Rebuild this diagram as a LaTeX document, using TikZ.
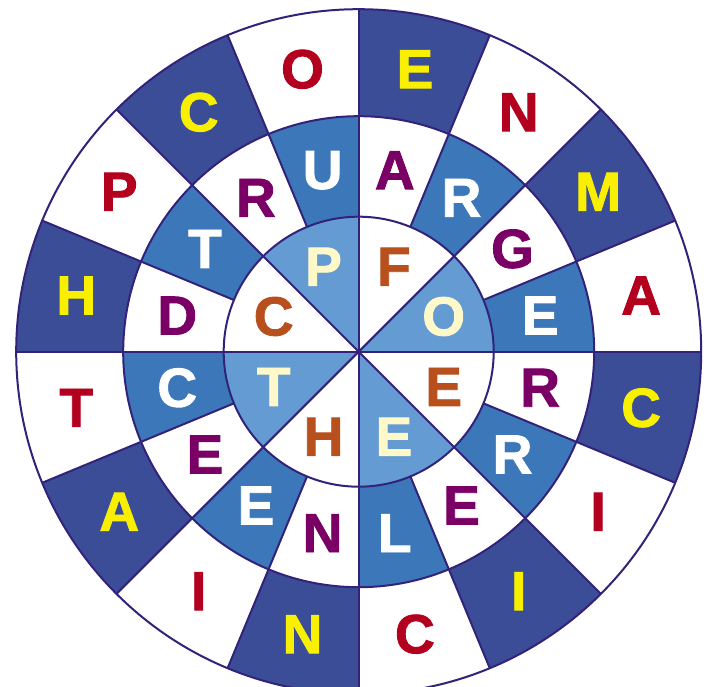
\documentclass[tikz,border=0pt]{standalone}
\usepackage{fontspec}
\setmainfont{Liberation Sans}
\newfontfamily\letterfont{Liberation Sans}[UprightFont=*-Bold, FakeBold=1.6]
\definecolor{dblue}{HTML}{3C4D98}
\definecolor{mblue}{HTML}{3C78B9}
\definecolor{lblue}{HTML}{649BD3}
\definecolor{oyellow}{HTML}{F8F000}
\definecolor{ocrimson}{HTML}{B3001E}
\definecolor{mpurple}{HTML}{7A0066}
\definecolor{icream}{HTML}{FFF8C8}
\definecolor{iorange}{HTML}{B8501E}
\definecolor{linec}{HTML}{32227A}
\tikzset{
  letter/.style={font=\letterfont\fontsize{55}{55}\selectfont, inner sep=0pt},
  ringline/.style={draw=linec, line width=2pt},
}
\begin{document}
\begin{tikzpicture}[x=1pt,y=1pt]
\useasboundingbox (-358.7,-335.3) rectangle (351.3,351.7);
\def\Ro{342.5}
\def\Rm{235.5}
\def\Ri{135}
% outer ring
\foreach \L [count=\i from 0] in {A,M,N,E,O,C,P,H,T,A,I,N,C,I,I,C}{
  \pgfmathsetmacro\a{22.5*\i}
  \pgfmathsetmacro\b{22.5*\i+22.5}
  \pgfmathsetmacro\c{22.5*\i+11.25}
  \ifodd\i \def\fc{dblue}\def\tc{oyellow}\else \def\fc{white}\def\tc{ocrimson}\fi
  \fill[\fc] (\a:\Rm) arc[start angle=\a,end angle=\b,radius=\Rm] -- (\b:\Ro) arc[start angle=\b,end angle=\a,radius=\Ro] -- cycle;
  \node[letter,text=\tc] (o\i) at (\c:288) {\L};
}
% middle ring
\foreach \L [count=\i from 0] in {E,G,R,A,U,R,T,D,C,E,E,N,L,E,R,R}{
  \pgfmathsetmacro\a{22.5*\i}
  \pgfmathsetmacro\b{22.5*\i+22.5}
  \pgfmathsetmacro\c{22.5*\i+11.25}
  \ifodd\i \def\fc{white}\def\tc{mpurple}\else \def\fc{mblue}\def\tc{white}\fi
  \fill[\fc] (\a:\Ri) arc[start angle=\a,end angle=\b,radius=\Ri] -- (\b:\Rm) arc[start angle=\b,end angle=\a,radius=\Rm] -- cycle;
  \node[letter,text=\tc] (m\i) at (\c:185) {\L};
}
% inner disc
\foreach \L [count=\i from 0] in {O,F,P,C,T,H,E,E}{
  \pgfmathsetmacro\a{45*\i}
  \pgfmathsetmacro\b{45*\i+45}
  \pgfmathsetmacro\c{45*\i+22.5}
  \ifodd\i \def\fc{white}\def\tc{iorange}\else \def\fc{lblue}\def\tc{icream}\fi
  \fill[\fc] (0,0) -- (\a:\Ri) arc[start angle=\a,end angle=\b,radius=\Ri] -- cycle;
  \node[letter,text=\tc] (i\i) at (\c:92) {\L};
}
% lines
\coordinate (ctr) at (0,0);
\foreach \k in {0,...,7}{
  \draw[ringline] (ctr) -- (45*\k:\Ro);
  \draw[ringline] (45*\k+22.5:\Ri) -- (45*\k+22.5:\Ro);
}
\draw[ringline] (ctr) circle[radius=\Ri];
\draw[ringline] (ctr) circle[radius=\Rm];
\draw[ringline] (ctr) circle[radius=\Ro];
\end{tikzpicture}
\end{document}
